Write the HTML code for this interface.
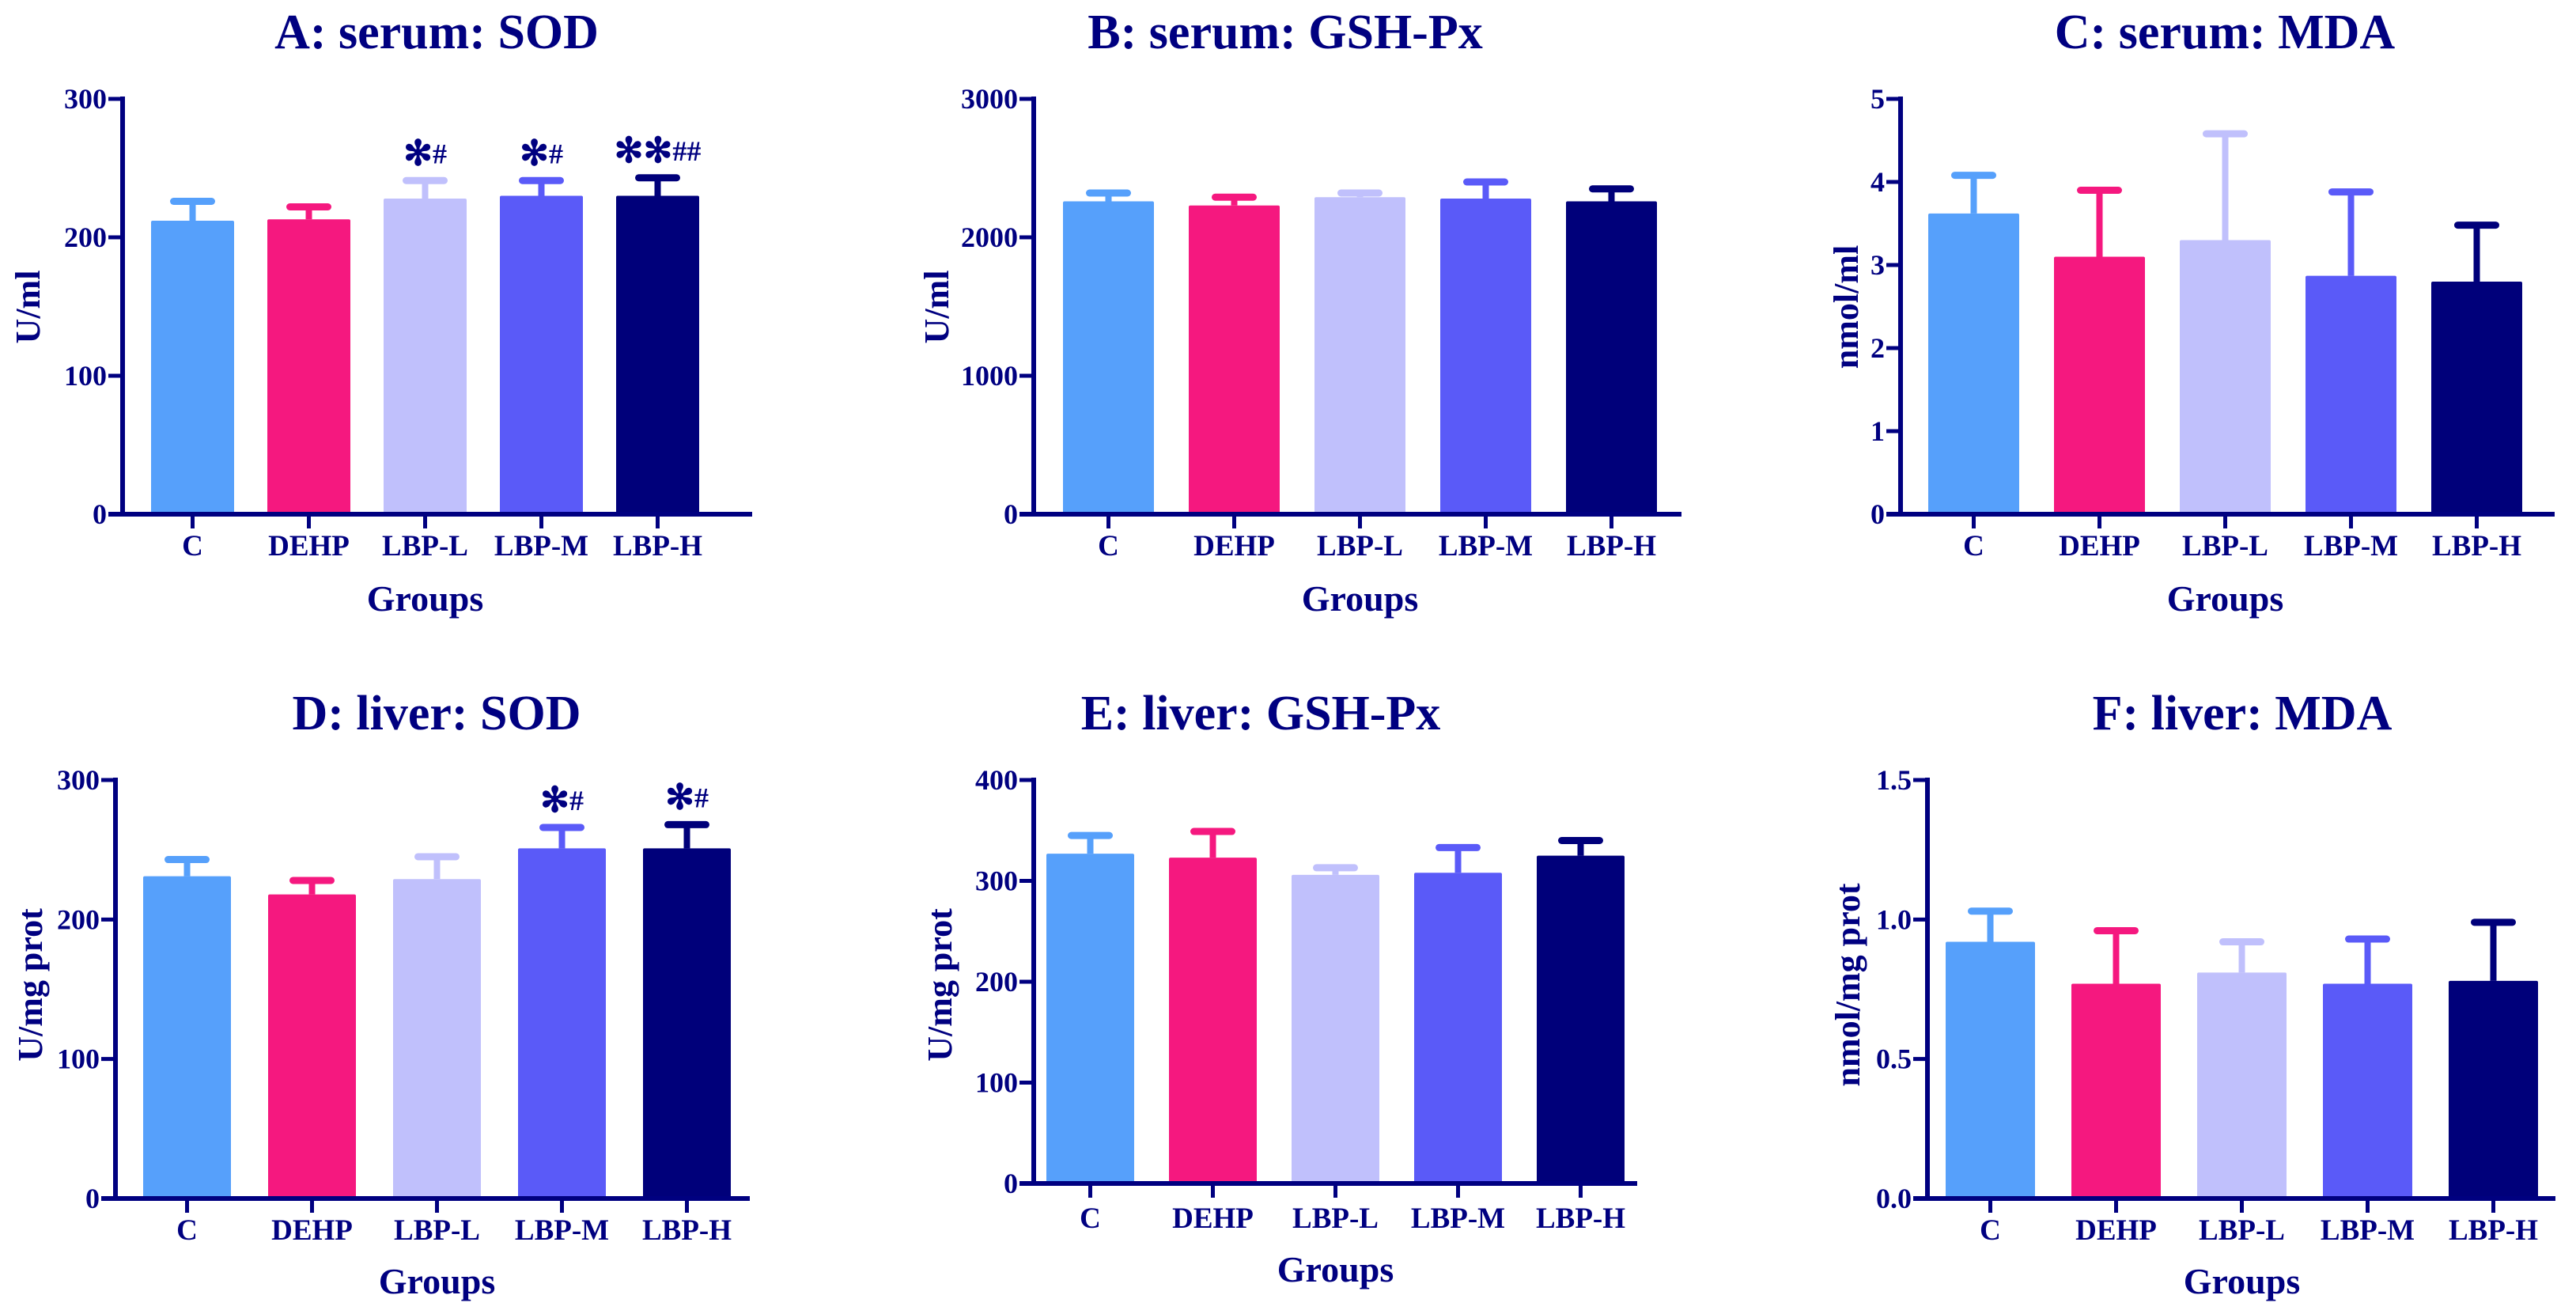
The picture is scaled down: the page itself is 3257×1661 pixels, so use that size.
<!DOCTYPE html>
<html><head><meta charset="utf-8">
<style>
html,body{margin:0;padding:0;background:#fff;}
svg{display:block;font-family:"Liberation Serif",serif;font-weight:bold;}
</style></head>
<body>
<svg id="chart" width="3257" height="1661" viewBox="0 0 3257 1661" xmlns="http://www.w3.org/2000/svg"></svg>
<script>
const categories = ["C","DEHP","LBP-L","LBP-M","LBP-H"];
const colors = ["#56A0FB","#F5187F","#C0C0FC","#5A5AF8","#00007A"];
const titles = ["A: serum: SOD","B: serum: GSH-Px","C: serum: MDA","D: liver: SOD","E: liver: GSH-Px","F: liver: MDA"];
const yTitles = ["U/ml","U/ml","nmol/ml","U/mg prot","U/mg prot","nmol/mg prot"];
const meansA = [212,213,228,230,230];
const errTopA = [226,222,241,241,243];
const meansB = [2260,2230,2290,2280,2260];
const errTopB = [2320,2290,2320,2400,2350];
const meansC = [3.62,3.1,3.3,2.87,2.8];
const errTopC = [4.08,3.9,4.58,3.88,3.48];
const meansD = [231,218,229,251,251];
const errTopD = [243,228,245,266,268];
const meansE = [327,323,306,308,325];
const errTopE = [345,349,313,333,340];
const meansF = [0.92,0.77,0.81,0.77,0.78];
const errTopF = [1.03,0.96,0.92,0.93,0.99];
const ticksA = [0,100,200,300];
const ticksB = [0,1000,2000,3000];
const ticksC = [0,1,2,3,4,5];
const ticksD = [0,100,200,300];
const ticksE = [0,100,200,300,400];
const ticksF = ["0.0","0.5","1.0","1.5"];
const marksA = ["","","*#","*#","**##"];
const marksD = ["","","","*#","*#"];
const blank = ["","","","","",""];

const NAVY = "#000080";
const svg = document.getElementById("chart");
const NS = "http://www.w3.org/2000/svg";
function mk(tag, attrs, parent){
  const e = document.createElementNS(NS, tag);
  for (const k in attrs) e.setAttribute(k, attrs[k]);
  (parent||svg).appendChild(e);
  return e;
}
const panels = [
  {means:meansA, err:errTopA, ticks:ticksA, marks:marksA, ax:155, end:951, yt:125, y0:650, fb:191, bw:105, st:147, tx:552, ty:61, ytx:35, yty:388, cy:702, gy:772},
  {means:meansB, err:errTopB, ticks:ticksB, marks:blank, ax:1307, end:2126, yt:125, y0:650, fb:1344, bw:115, st:159, tx:1625, ty:61, ytx:1184, yty:388, cy:702, gy:772},
  {means:meansC, err:errTopC, ticks:ticksC, marks:blank, ax:2403, end:3230, yt:125, y0:650, fb:2438, bw:115, st:159, tx:2813, ty:61, ytx:2334, yty:388, cy:702, gy:772},
  {means:meansD, err:errTopD, ticks:ticksD, marks:marksD, ax:146, end:948, yt:986, y0:1515, fb:181, bw:111, st:158, tx:552, ty:922, ytx:38, yty:1245, cy:1567, gy:1635},
  {means:meansE, err:errTopE, ticks:ticksE, marks:blank, ax:1307, end:2070, yt:986, y0:1496, fb:1323, bw:111, st:155, tx:1594, ty:922, ytx:1188, yty:1245, cy:1552, gy:1620},
  {means:meansF, err:errTopF, ticks:ticksF, marks:blank, ax:2437, end:3231, yt:986, y0:1515, fb:2460, bw:113, st:159, tx:2835, ty:922, ytx:2336, yty:1245, cy:1567, gy:1635}
];
panels.forEach((p, pi) => {
  const g = mk("g", {});
  
  
  const tmax = parseFloat(p.ticks[p.ticks.length-1]);
  const y = v => p.y0 - (v / tmax) * (p.y0 - p.yt);
  const xc = i => p.fb + i * p.st + p.bw / 2;
  const t = mk("text", {x:p.tx, y:p.ty, "font-size":62, fill:NAVY, "text-anchor":"middle"}, g);
  t.textContent = titles[pi];
  
  
  const yt = mk("text", {x:0, y:0, "font-size":44, fill:NAVY, "text-anchor":"middle", transform:`translate(${p.ytx+15},${p.yty}) rotate(-90)`}, g);
  yt.textContent = yTitles[pi];
  
  
  p.means.forEach((m, i) => {
    const cx = xc(i);
    const e = mk("line", {x1:cx, x2:cx, y1:y(m), y2:y(p.err[i]), stroke:colors[i], "stroke-width":8}, g);
    
    
    const c = mk("line", {x1:cx-24, x2:cx+24, y1:y(p.err[i]), y2:y(p.err[i]), stroke:colors[i], "stroke-width":9, "stroke-linecap":"round"}, g);
    
    
    const b = mk("rect", {x:p.fb + i*p.st, y:y(m), width:p.bw, height:p.y0 - y(m), fill:colors[i], rx:2}, g);
    
    
    if (p.marks[i]) {
      const s = p.marks[i];
      const stars = s.replace(/#/g, "").length;
      const at = mk("text", {x:cx, y:y(p.err[i]) - 20, fill:NAVY, "text-anchor":"middle"}, g);
      const ts1 = mk("tspan", {"font-size":44}, at);
      ts1.textContent = "✻".repeat(stars);
      const ts2 = mk("tspan", {"font-size":36, dy:-2}, at);
      ts2.textContent = s.slice(stars);
      
      
    }
    const tk = mk("line", {x1:cx, x2:cx, y1:p.y0, y2:p.y0+18, stroke:NAVY, "stroke-width":5}, g);
    
    
    const cl = mk("text", {x:cx, y:p.cy, "font-size":37, fill:NAVY, "text-anchor":"middle"}, g);
    cl.textContent = categories[i];
    
    
  });
  p.ticks.forEach(tv => {
    const yy = y(parseFloat(tv));
    const tk = mk("line", {x1:p.ax-18, x2:p.ax, y1:yy, y2:yy, stroke:NAVY, "stroke-width":5}, g);
    
    
    const tl = mk("text", {x:p.ax-20, y:yy+12, "font-size":36, fill:NAVY, "text-anchor":"end"}, g);
    tl.textContent = tv;
    
    
  });
  const ya = mk("line", {x1:p.ax, x2:p.ax, y1:p.yt-3, y2:p.y0+3, stroke:NAVY, "stroke-width":6}, g);
  
  
  const xa = mk("line", {x1:p.ax-18, x2:p.end, y1:p.y0, y2:p.y0, stroke:NAVY, "stroke-width":6}, g);
  
  
  const gl = mk("text", {x:(xc(0)+xc(4))/2, y:p.gy, "font-size":46, fill:NAVY, "text-anchor":"middle"}, g);
  gl.textContent = "Groups";
  
  
});
</script>
</body></html>
